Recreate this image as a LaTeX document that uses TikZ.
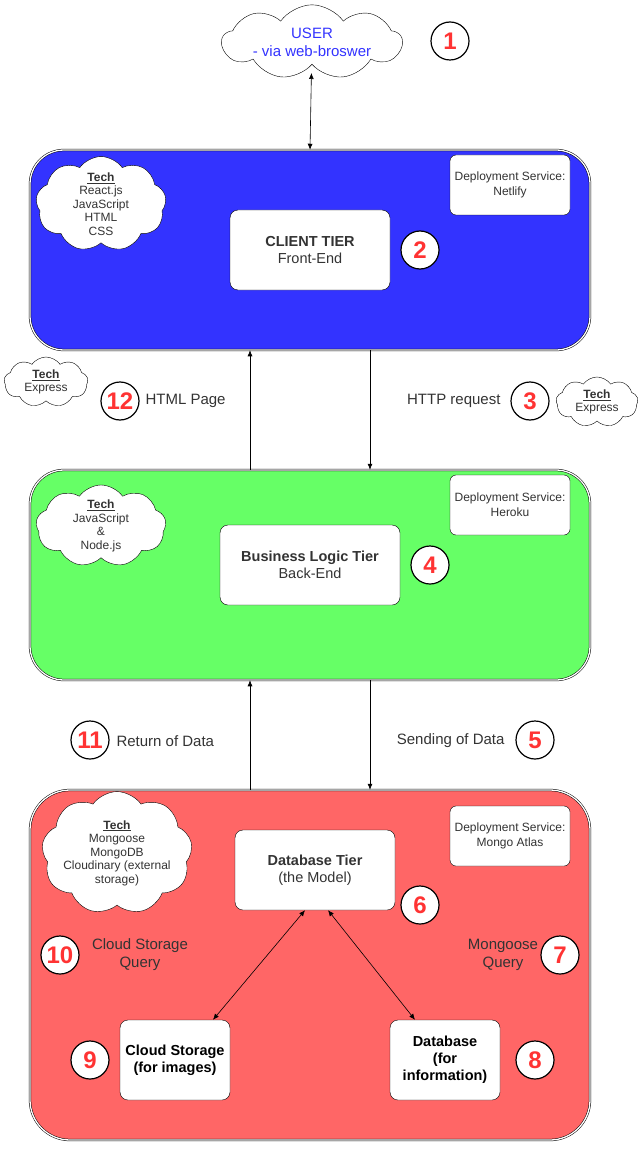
\documentclass[tikz,border=0pt]{standalone}
\usepackage{fontspec}
\setmainfont{Liberation Sans}
\usetikzlibrary{shapes.symbols,arrows.meta}
\definecolor{clientblue}{HTML}{3333FF}
\definecolor{logicgreen}{HTML}{66FF66}
\definecolor{dbred}{HTML}{FF6666}
\definecolor{numred}{HTML}{FF3333}

\begin{document}
\begin{tikzpicture}[x=1pt, y=-1pt]
    \tikzstyle{tier}=[draw=black, double, line width=0.5pt, double distance=1.3pt,
                      rounded corners=34pt, inner sep=0pt]
    \tikzstyle{card}=[draw=black, fill=white, rounded corners=8pt, align=center,
                      text=black!80, inner sep=1pt, font=\fontsize{14.5}{17}\selectfont]
    \tikzstyle{deploy}=[draw=black, fill=white, rounded corners=6pt, align=center,
                      text=black!80, minimum width=120pt, minimum height=60pt,
                      font=\fontsize{12}{15}\selectfont]
    \tikzstyle{techcloud}=[cloud, cloud puffs=9, cloud puff arc=110, draw=black, fill=white,
                      align=center, inner sep=-4pt, text=black!80,
                      font=\fontsize{12}{13.5}\selectfont]
    \tikzstyle{num}=[circle, draw=black, line width=1.2pt, fill=white, minimum size=38pt,
                      inner sep=0pt, text=numred, font=\fontsize{24}{24}\selectfont\bfseries]
    \tikzstyle{lbl}=[align=center, text=black!80, font=\fontsize{15}{18}\selectfont]
    \tikzstyle{link}=[draw=black, line width=0.6pt, -{Latex[length=6pt, width=5pt]}]
    \tikzstyle{both}=[draw=black, line width=0.6pt, {Latex[length=6pt, width=5pt]}-{Latex[length=6pt, width=5pt]}]

    \useasboundingbox (0,0) rectangle (641,1150);

    % user on top
    \node[techcloud, text=clientblue, aspect=2.8, minimum width=180pt, minimum height=64pt,
          inner sep=-8pt, font=\fontsize{15}{18}\selectfont] (user) at (312,42) {USER\\- via web-broswer};
    \node[num] (n1) at (450,41) {1};

    % client tier
    \node[tier, fill=clientblue, minimum width=560pt, minimum height=200pt] (client) at (310,250) {};
    \node[techcloud, aspect=1.6, minimum width=130pt, minimum height=82pt] (techclient) at (101,204)
        {\underline{\textbf{Tech}}\\React.js\\JavaScript\\HTML\\CSS};
    \node[deploy] (depclient) at (510,185) {Deployment Service:\\Netlify};
    \node[card, minimum width=160pt, minimum height=80pt] (clienttier) at (310,250)
        {\textbf{CLIENT TIER}\\Front-End};
    \node[num] (n2) at (420,250) {2};

    % between client and logic
    \node[techcloud, aspect=1.7, minimum width=84pt, minimum height=50pt] (techleft) at (46,382)
        {\underline{\textbf{Tech}}\\Express};
    \node[num] (n12) at (120,401) {12};
    \node[lbl, anchor=west] (html) at (142,401) {HTML Page};
    \node[lbl, anchor=east] (http) at (504,401) {HTTP request};
    \node[num] (n3) at (530,401) {3};
    \node[techcloud, aspect=1.7, minimum width=82pt, minimum height=50pt] (techright) at (597,402)
        {\underline{\textbf{Tech}}\\Express};

    % business logic tier
    \node[tier, fill=logicgreen, minimum width=560pt, minimum height=210pt] (logic) at (310,575) {};
    \node[techcloud, aspect=1.6, minimum width=130pt, minimum height=82pt] (techlogic) at (101,526)
        {\underline{\textbf{Tech}}\\JavaScript\\\&\\Node.js};
    \node[deploy] (deplogic) at (510,505) {Deployment Service:\\Heroku};
    \node[card, minimum width=180pt, minimum height=80pt] (logictier) at (310,565)
        {\textbf{Business Logic Tier}\\Back-End};
    \node[num] (n4) at (430,565) {4};

    % between logic and database
    \node[num] (n11) at (90,740) {11};
    \node[lbl, anchor=west] (ret) at (113,741) {Return of Data};
    \node[lbl, anchor=east] (send) at (508,741) {Sending of Data};
    \node[num] (n5) at (535,740) {5};

    % database tier
    \node[tier, fill=dbred, rounded corners=40pt, minimum width=560pt, minimum height=350pt] (db) at (310,965) {};
    \node[techcloud, aspect=1.35, minimum width=140pt, minimum height=104pt] (techdb) at (117,853)
        {\underline{\textbf{Tech}}\\Mongoose\\MongoDB\\Cloudinary (external\\storage)};
    \node[deploy] (depdb) at (510,836) {Deployment Service:\\Mongo Atlas};
    \node[card, minimum width=160pt, minimum height=80pt] (dbtier) at (315,870)
        {\textbf{Database Tier}\\(the Model)};
    \node[num] (n6) at (420,905) {6};
    \node[num] (n10) at (60,955) {10};
    \node[lbl] (cloudq) at (140,955) {Cloud Storage\\Query};
    \node[lbl] (mongoq) at (503,955) {Mongoose\\Query};
    \node[num] (n7) at (560,955) {7};
    \node[card, minimum width=110pt, minimum height=80pt, text=black, inner sep=0pt] (cloudstore) at (175,1060)
        {\textbf{Cloud Storage}\\\textbf{(for images)}};
    \node[card, minimum width=110pt, minimum height=80pt, text=black] (database) at (445,1060)
        {\textbf{Database}\\\textbf{(for}\\\textbf{information)}};
    \node[num] (n9) at (90,1060) {9};
    \node[num] (n8) at (535,1060) {8};

    % connectors
    \draw[both, shorten <=8pt] (user) -- (client.north);
    \draw[link] ([xshift=-60pt]logic.north) -- ([xshift=-60pt]client.south);
    \draw[link] ([xshift=60pt]client.south) -- ([xshift=60pt]logic.north);
    \draw[link] ([xshift=-60pt]db.north) -- ([xshift=-60pt]logic.south);
    \draw[link] ([xshift=60pt]logic.south) -- ([xshift=60pt]db.north);
    \draw[both] ([xshift=-10pt]dbtier.south) -- ([xshift=38pt]cloudstore.north);
    \draw[both] ([xshift=13pt]dbtier.south) -- ([xshift=-30pt]database.north);
\end{tikzpicture}
\end{document}
